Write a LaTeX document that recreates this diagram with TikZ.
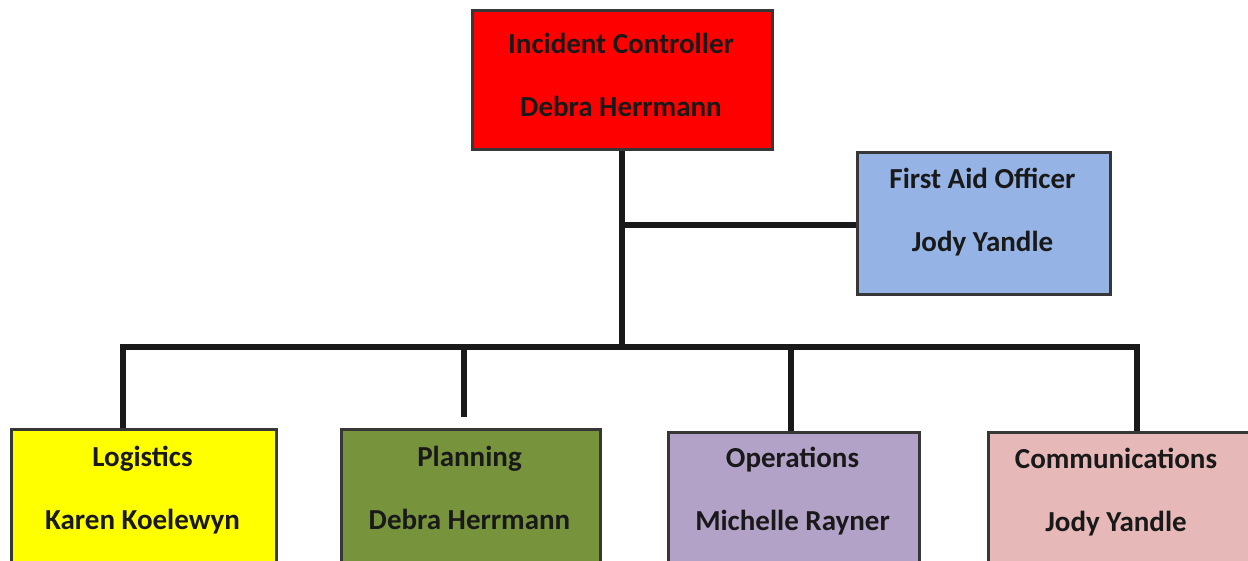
\documentclass[tikz,border=0pt]{standalone}
\usepackage{fontspec}
\setmainfont{Carlito}
\usepackage{tikz}
\usetikzlibrary{positioning, calc}
\definecolor{icred}{RGB}{255,0,0}
\definecolor{aidblue}{RGB}{149,179,228}
\definecolor{logyellow}{RGB}{255,255,0}
\definecolor{planolive}{RGB}{119,147,60}
\definecolor{opspurple}{RGB}{179,162,199}
\definecolor{compink}{RGB}{230,185,184}
\definecolor{edgegray}{RGB}{55,55,55}

\begin{document}
\begin{tikzpicture}[
    x=1pt, y=-1pt,
    box/.style={draw=edgegray, line width=3pt, anchor=north west, inner sep=0pt},
    txt/.style={align=center, font=\fontsize{29}{63}\selectfont\bfseries, text=black!90},
    link/.style={line width=6pt, black!90}
]
    \clip (0,0) rectangle (1248,560);

    % Incident controller and first aid
    \node[box, fill=icred, minimum width=300pt, minimum height=139pt] (ic) at (471,9) {};
    \node[txt] (ic-txt) at (621,74.5) {Incident Controller\\Debra Herrmann};
    \node[box, fill=aidblue, minimum width=253pt, minimum height=142pt] (firstaid) at (856,151) {};
    \node[txt] (firstaid-txt) at (982.5,212.5) {First Aid Officer\\Jody Yandle};

    % Sections
    \node[box, fill=logyellow, minimum width=265pt, minimum height=160pt] (logistics) at (10,428) {};
    \node[txt] (logistics-txt) at (142.5,490.5) {Logistics\\Karen Koelewyn};
    \node[box, fill=planolive, minimum width=259pt, minimum height=160pt] (planning) at (340,428) {};
    \node[txt] (planning-txt) at (469.5,488) {Planning\\Debra Herrmann};
    \node[box, fill=opspurple, minimum width=251pt, minimum height=160pt] (operations) at (667,431) {};
    \node[txt] (operations-txt) at (792.5,491.5) {Operations\\Michelle Rayner};
    \node[box, fill=compink, minimum width=270pt, minimum height=160pt] (comms) at (987,431) {};
    \node[txt] (comms-txt) at (1116,492.5) {Communications\\Jody Yandle};

    % Connectors
    \coordinate (fork) at (620,225);
    \coordinate (bus) at (620,347);
    \coordinate (log-top) at ([xshift=-21.5pt]logistics.north);
    \coordinate (plan-top) at ([xshift=-7.5pt,yshift=11pt]planning.north);
    \coordinate (ops-top) at ([xshift=-3.5pt]operations.north);
    \coordinate (comms-top) at ([xshift=13pt]comms.north);

    \draw[link] ([xshift=-1pt]ic.south) -- ([xshift=-1pt]ic.south |- bus);
    \draw[link] (fork) -- (firstaid.west |- fork);
    \draw[link] (log-top) |- (bus) -| (comms-top);
    \draw[link] (plan-top) -- (plan-top |- bus);
    \draw[link] (ops-top) -- (ops-top |- bus);
\end{tikzpicture}
\end{document}
